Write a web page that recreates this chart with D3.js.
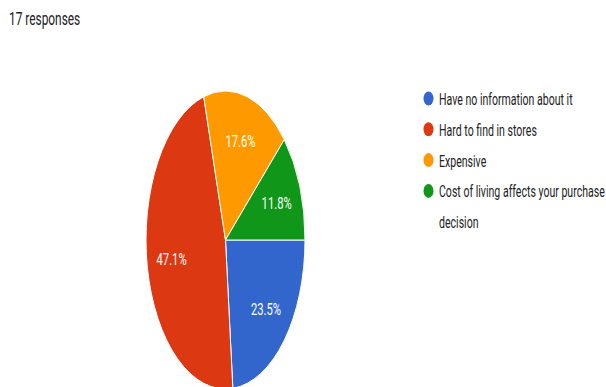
<!DOCTYPE html>
<meta charset="utf-8">
<title>17 responses</title>
<style>
  body { margin: 0; background: #fff; }
  svg { display: block; font-family: Roboto, "Liberation Sans", sans-serif; }
  .title { fill: #212121; font-size: 18px; }
  .legend text { fill: #222; font-size: 16px; }
  .slice-label { fill: #fff; font-size: 17px; }
  path.slice { stroke: #fff; stroke-width: 1; vector-effect: non-scaling-stroke; }
</style>
<body>
<script src="https://cdn.jsdelivr.net/npm/d3@7"></script>
<script>
var answers = ["Have no information about it", "Hard to find in stores", "Expensive",
               "Cost of living affects your purchase decision"];
var counts = [4, 8, 3, 2];
var colors = ["#3366cc", "#dc3912", "#ff9900", "#109618"];
var total = 17;

var W = 606, H = 387;
var cx = 225.5, cy = 240, r = 149, sx = 79.5 / 149;   // pie is squashed sideways
var ts = 0.66;                                        // text is squashed too

var svg = d3.select("body").append("svg")
    .attr("width", W)
    .attr("height", H);

svg.append("text")
    .attr("class", "title")
    .attr("transform", "translate(9,24.5) scale(" + ts + ",1)")
    .text(total + " responses");

var data = answers.map(function(a, i) { return { label: a, count: counts[i], color: colors[i] }; });

var pie = d3.pie()
    .sort(null)
    .value(function(d) { return d.count; })
    .startAngle(Math.PI / 2)
    .endAngle(Math.PI / 2 + 2 * Math.PI);

var arc = d3.arc().innerRadius(0).outerRadius(r);
var labelArc = d3.arc().innerRadius(r * 0.38).outerRadius(r);

var arcs = pie(data);

var g = svg.append("g")
    .attr("transform", "translate(" + cx + "," + cy + ") scale(" + sx + ",1)");

g.selectAll("path.slice")
    .data(arcs)
  .enter().append("path")
    .attr("class", "slice")
    .attr("fill", function(d) { return d.data.color; })
    .attr("d", arc);

var fmt = d3.format(".1f");
svg.selectAll("text.slice-label")
    .data(arcs)
  .enter().append("text")
    .attr("class", "slice-label")
    .attr("text-anchor", "middle")
    .attr("dy", "0.36em")
    .attr("transform", function(d) {
      var c = labelArc.centroid(d);
      return "translate(" + (cx + c[0] * sx) + "," + (cy + c[1]) + ") scale(" + ts + ",1)";
    })
    .text(function(d) { return fmt(d.data.count / total * 100) + "%"; });

// legend
var lx = 428.5, ly = 98.5, step = 30.8, textX = 439, maxW = 172;
var legend = svg.append("g").attr("class", "legend");
var row = 0;
data.forEach(function(d) {
  legend.append("ellipse")
      .attr("cx", lx)
      .attr("cy", ly + row * step)
      .attr("rx", 5)
      .attr("ry", 7)
      .attr("fill", d.color);

  // wrap long labels onto the next row
  var words = d.label.split(" "), line = [];
  var t = legend.append("text")
      .attr("transform", "translate(" + textX + "," + (ly + row * step + 6.5) + ") scale(" + ts + ",1)");
  words.forEach(function(w) {
    line.push(w);
    t.text(line.join(" "));
    if (t.node().getComputedTextLength() * ts > maxW && line.length > 1) {
      line.pop();
      t.text(line.join(" "));
      row++;
      line = [w];
      t = legend.append("text")
          .attr("transform", "translate(" + textX + "," + (ly + row * step + 6.5) + ") scale(" + ts + ",1)")
          .text(w);
    }
  });
  row++;
});
</script>
</body>
